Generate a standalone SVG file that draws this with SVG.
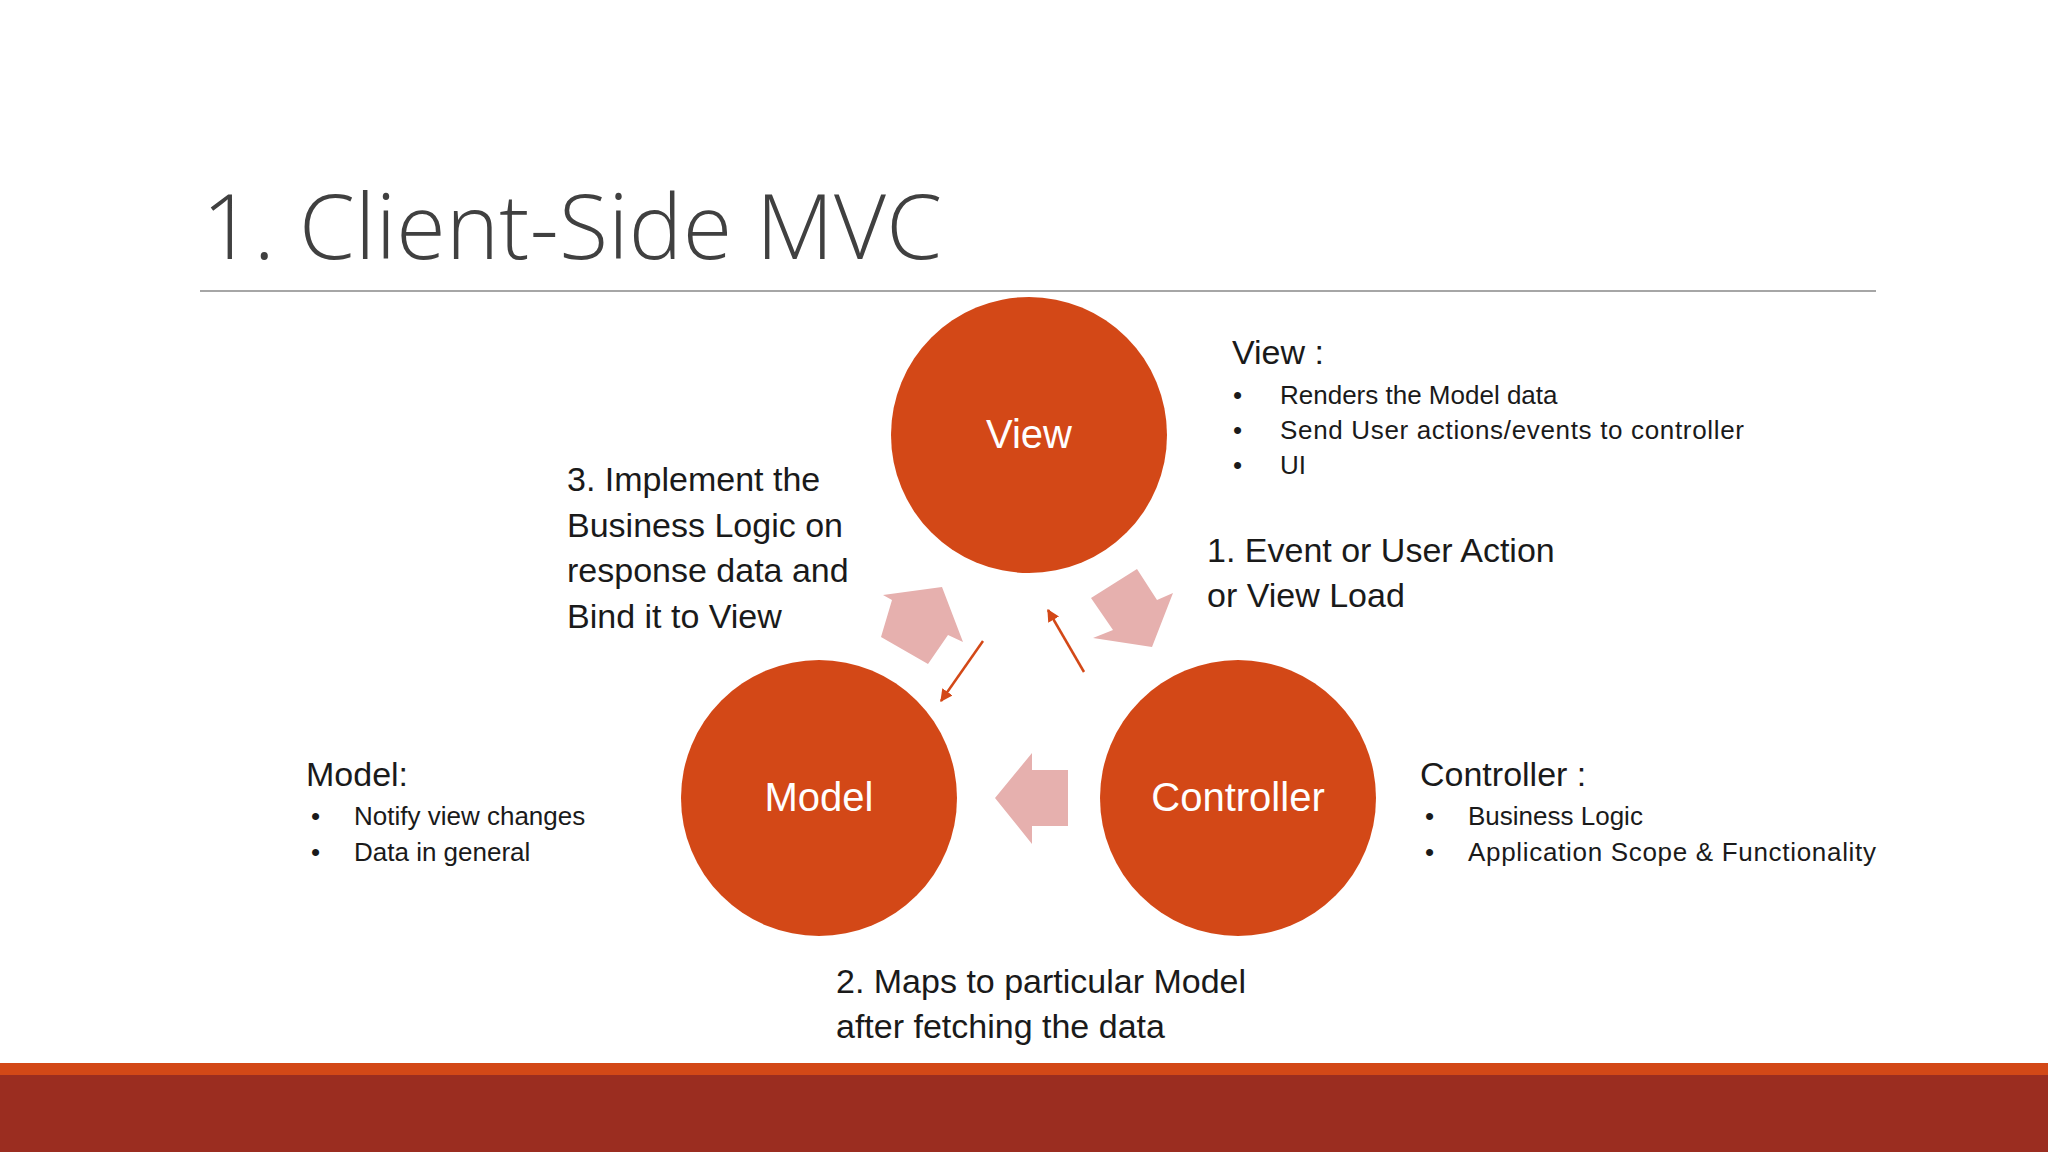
<svg xmlns="http://www.w3.org/2000/svg" width="2048" height="1152" viewBox="0 0 2048 1152">
<defs>
<style>
text{font-family:"Liberation Sans",Arial,sans-serif;fill:#1a1a1a}
.c{fill:#D34817}
.cl{fill:#fff;font-size:40px;text-anchor:middle}
.lbl{font-size:34px}
.hd{font-size:34px}
.bl{font-size:26px}
.ba{fill:#E6B0AE}
</style>
<marker id="ah" viewBox="0 0 10 10" refX="9" refY="5" markerWidth="5" markerHeight="5" orient="auto"><path d="M0,0L10,5L0,10z" fill="#D34817"/></marker>
</defs>
<rect width="2048" height="1152" fill="#fff"/>
<text x="202" y="259" style="font-family:'Open Sans','Liberation Sans',sans-serif;font-weight:300;fill:#404040;font-size:90px" textLength="740">1. Client-Side MVC</text>
<line x1="200" y1="291" x2="1876" y2="291" stroke="#a6a6a6" stroke-width="2"/>
<g id="connectors">
<polygon class="ba" points="892,600 883,595 942,587 963,642 948,635 928,664 881,637"/>
<polygon class="ba" points="1091,598 1137,569 1157,600 1173,593 1152,647 1093,638 1113,630"/>
<polygon class="ba" points="1068,770 1032,770 1032,753 995,798 1032,844 1032,826 1068,826"/>
<line x1="983" y1="641" x2="941" y2="701" stroke="#D34817" stroke-width="2.5" marker-end="url(#ah)"/>
<line x1="1084" y1="672" x2="1048" y2="610" stroke="#D34817" stroke-width="2.5" marker-end="url(#ah)"/>
</g>
<g id="view"><circle class="c" cx="1029" cy="435" r="138"/><text class="cl" x="1029" y="448">View</text></g>
<g id="model"><circle class="c" cx="819" cy="798" r="138"/><text class="cl" x="819" y="811">Model</text></g>
<g id="controller"><circle class="c" cx="1238" cy="798" r="138"/><text class="cl" x="1238" y="811">Controller</text></g>
<g id="label3" class="lbl">
<text x="567" y="491">3. Implement the</text>
<text x="567" y="537">Business Logic on</text>
<text x="567" y="582">response data and</text>
<text x="567" y="628">Bind it to View</text>
</g>
<g id="label1" class="lbl">
<text x="1207" y="562">1. Event or User Action</text>
<text x="1207" y="607">or View Load</text>
</g>
<g id="label2" class="lbl">
<text x="836" y="993">2. Maps to particular Model</text>
<text x="836" y="1038">after fetching the data</text>
</g>
<g id="viewdesc">
<text class="hd" x="1232" y="364">View :</text>
<text class="bl" x="1233" y="404">•</text><text class="bl" x="1280" y="404">Renders the Model data</text>
<text class="bl" x="1233" y="439">•</text><text class="bl" x="1280" y="439" textLength="464">Send User actions/events to controller</text>
<text class="bl" x="1233" y="474">•</text><text class="bl" x="1280" y="474">UI</text>
</g>
<g id="controllerdesc">
<text class="hd" x="1420" y="786">Controller :</text>
<text class="bl" x="1425" y="825">•</text><text class="bl" x="1468" y="825">Business Logic</text>
<text class="bl" x="1425" y="861">•</text><text class="bl" x="1468" y="861" textLength="408">Application Scope &amp; Functionality</text>
</g>
<g id="modeldesc">
<text class="hd" x="306" y="786">Model:</text>
<text class="bl" x="311" y="825">•</text><text class="bl" x="354" y="825">Notify view changes</text>
<text class="bl" x="311" y="861">•</text><text class="bl" x="354" y="861">Data in general</text>
</g>
<rect x="0" y="1063" width="2048" height="12" fill="#D34817"/>
<rect x="0" y="1075" width="2048" height="77" fill="#9B2D20"/>
</svg>
